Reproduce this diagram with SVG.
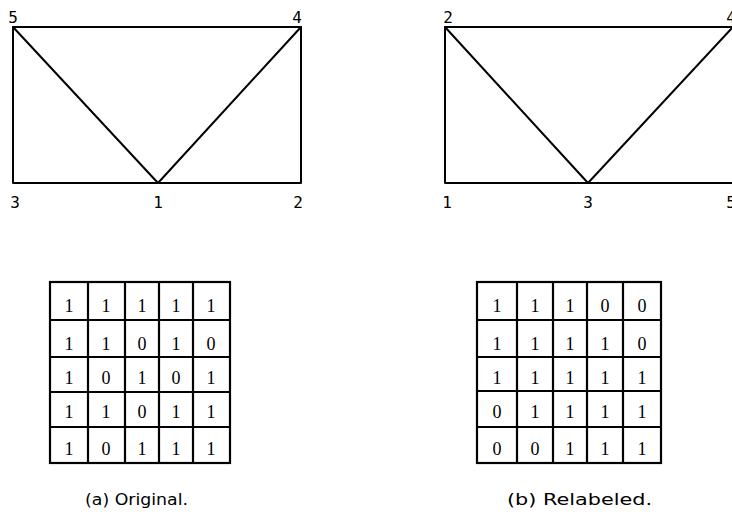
<svg xmlns="http://www.w3.org/2000/svg" width="732" height="512" viewBox="0 0 732 512">
<style>
.e{stroke:#000;stroke-width:2;fill:none;stroke-linecap:round;stroke-linejoin:round}
.g{stroke:#000;stroke-width:2.2;fill:none}
.lb{font-family:"DejaVu Sans Mono","Liberation Mono",monospace;font-size:16px;text-anchor:middle;fill:#000}
.d{font-family:"Liberation Serif","DejaVu Serif",serif;font-size:18px;text-anchor:middle;fill:#000}
.cap{font-family:"DejaVu Sans","Liberation Sans",sans-serif;font-size:15px;fill:#000}
</style>
<rect width="732" height="512" fill="#fff"/>
<!-- Graph (a) -->
<g id="graph-a-connectors">
<path class="e" d="M13,27 L301,27 L301,183 L13,183 Z"/>
<path class="e" d="M13,27 L158,183 L301,27"/>
</g>
<g id="a-node-5"><text class="lb" x="13" y="23">5</text></g>
<g id="a-node-4"><text class="lb" x="297" y="23">4</text></g>
<g id="a-node-3"><text class="lb" x="15" y="208">3</text></g>
<g id="a-node-1"><text class="lb" x="158" y="208">1</text></g>
<g id="a-node-2"><text class="lb" x="298" y="208">2</text></g>
<!-- Graph (b) -->
<g id="graph-b-connectors">
<path class="e" d="M445,27 L733,27 L733,183 L445,183 Z"/>
<path class="e" d="M445,27 L588,183 L733,27"/>
</g>
<g id="b-node-2"><text class="lb" x="448" y="23">2</text></g>
<g id="b-node-4"><text class="lb" x="731" y="23">4</text></g>
<g id="b-node-1"><text class="lb" x="447" y="208">1</text></g>
<g id="b-node-3"><text class="lb" x="588" y="208">3</text></g>
<g id="b-node-5"><text class="lb" x="731" y="208">5</text></g>
<!-- Matrix (a) -->
<g id="matrix-a">
<rect class="g" x="50" y="282" width="180" height="181"/>
<path class="g" d="M88,282V463M125,282V463M159,282V463M193,282V463M50,320H230M50,357H230M50,392H230M50,427H230"/>
<g>
<text class="d" x="69" y="312">1</text><text class="d" x="106" y="312">1</text><text class="d" x="142" y="312">1</text><text class="d" x="176" y="312">1</text><text class="d" x="211" y="312">1</text>
<text class="d" x="69" y="350">1</text><text class="d" x="106" y="350">1</text><text class="d" x="142" y="350">0</text><text class="d" x="176" y="350">1</text><text class="d" x="211" y="350">0</text>
<text class="d" x="69" y="384">1</text><text class="d" x="106" y="384">0</text><text class="d" x="142" y="384">1</text><text class="d" x="176" y="384">0</text><text class="d" x="211" y="384">1</text>
<text class="d" x="69" y="418">1</text><text class="d" x="106" y="418">1</text><text class="d" x="142" y="418">0</text><text class="d" x="176" y="418">1</text><text class="d" x="211" y="418">1</text>
<text class="d" x="69" y="455">1</text><text class="d" x="106" y="455">0</text><text class="d" x="142" y="455">1</text><text class="d" x="176" y="455">1</text><text class="d" x="211" y="455">1</text>
</g>
</g>
<!-- Matrix (b) -->
<g id="matrix-b">
<rect class="g" x="477" y="282" width="184" height="181"/>
<path class="g" d="M517,282V463M553,282V463M587,282V463M623,282V463M477,320H661M477,357H661M477,391H661M477,427H661"/>
<g>
<text class="d" x="497" y="312">1</text><text class="d" x="535" y="312">1</text><text class="d" x="570" y="312">1</text><text class="d" x="605" y="312">0</text><text class="d" x="642" y="312">0</text>
<text class="d" x="497" y="350">1</text><text class="d" x="535" y="350">1</text><text class="d" x="570" y="350">1</text><text class="d" x="605" y="350">1</text><text class="d" x="642" y="350">0</text>
<text class="d" x="497" y="384">1</text><text class="d" x="535" y="384">1</text><text class="d" x="570" y="384">1</text><text class="d" x="605" y="384">1</text><text class="d" x="642" y="384">1</text>
<text class="d" x="497" y="418">0</text><text class="d" x="535" y="418">1</text><text class="d" x="570" y="418">1</text><text class="d" x="605" y="418">1</text><text class="d" x="642" y="418">1</text>
<text class="d" x="497" y="455">0</text><text class="d" x="535" y="455">0</text><text class="d" x="570" y="455">1</text><text class="d" x="605" y="455">1</text><text class="d" x="642" y="455">1</text>
</g>
</g>
<g id="caption-a"><text class="cap" x="85" y="505" textLength="103" lengthAdjust="spacingAndGlyphs">(a) Original.</text></g>
<g id="caption-b"><text class="cap" x="507" y="505" textLength="145" lengthAdjust="spacingAndGlyphs">(b) Relabeled.</text></g>
</svg>
